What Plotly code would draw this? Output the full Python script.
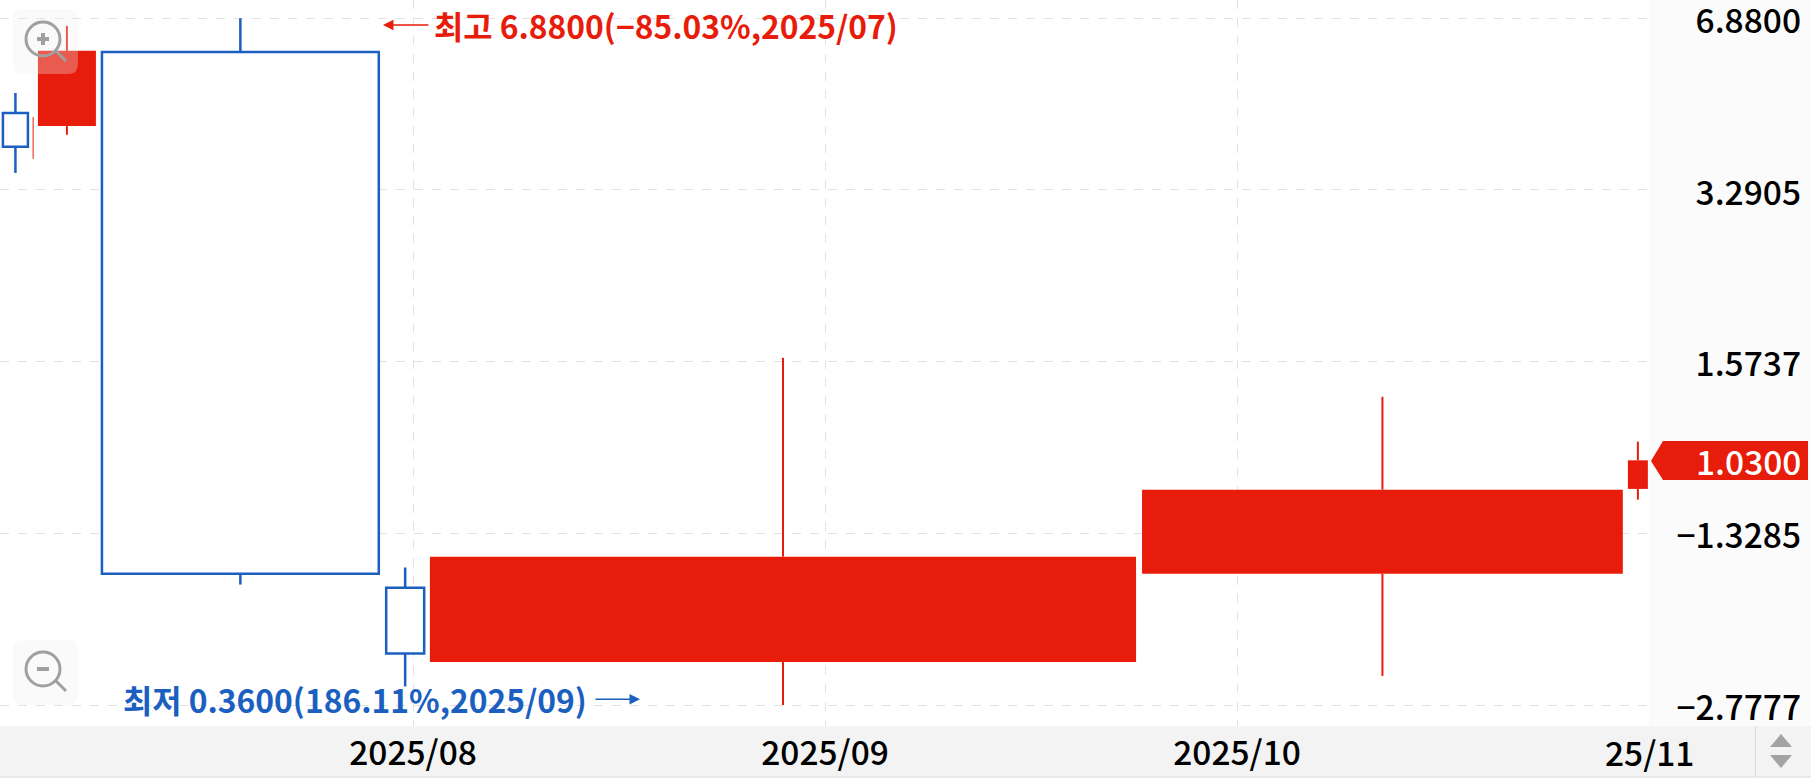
import math
import plotly.graph_objects as go

W, H = 1811, 778
RED = "#e71c0a"
BLUE = "#1b5fc1"
GRID = "#e2e2e2"
FONT = "Noto Sans CJK KR"

# Equivolume monthly candles: x is in month units, width is the candle's traded share
up_center = [7.035, 7.581, 7.981]
up_width = [0.0607, 0.672, 0.0922]
up_top = [4.58, 5.95, 0.596]
up_bottom = [3.96, 0.633, 0.449]
up_high = [4.99, 6.88, 0.650]
up_low = [3.54, 0.604, 0.39]

down_center = [7.160, 8.898, 10.353, 10.973]
down_width = [0.1408, 1.714, 1.167, 0.0485]
down_top = [5.98, 0.681, 0.908, 1.03]
down_bottom = [4.33, 0.433, 0.633, 0.911]
down_high = [6.66, 1.60, 1.353, 1.116]
down_low = [4.17, 0.36, 0.408, 0.870]

thin_center = [7.078]
thin_high = [4.50]
thin_low = [3.76]

y_tick_values = [6.88, 3.2905, 1.5737, 0.7527, 0.36]
y_tick_labels = ["6.8800", "3.2905", "1.5737", "−1.3285", "−2.7777"]
x_tick_values = [8, 9, 10]
x_tick_labels = ["2025/08", "2025/09", "2025/10"]
last_x_value = 11
last_x_label = "25/11"
last_price = 1.03
high_text = "최고 6.8800(−85.03%,2025/07)"
low_text = "최저 0.3600(186.11%,2025/09)"


def px(x):
    return x / W


def py(y):
    return 1 - y / H


def paper_path(points):
    return "M" + " L".join(f"{px(a):.5f},{py(b):.5f}" for a, b in points) + " Z"


def wick_xy(center, top, bottom, high, low):
    xs, ys = [], []
    for c, t, b, h, l in zip(center, top, bottom, high, low):
        xs += [c, c, None, c, c, None]
        ys += [h, t, None, b, l, None]
    return xs, ys


fig = go.Figure()
fig.add_bar(
    x=up_center, width=up_width, base=up_bottom,
    y=[t - b for t, b in zip(up_top, up_bottom)],
    marker=dict(color="white", line=dict(color=BLUE, width=2.5)),
)
fig.add_bar(
    x=down_center, width=down_width, base=down_bottom,
    y=[t - b for t, b in zip(down_top, down_bottom)],
    marker=dict(color=RED, line=dict(color=RED, width=0)),
)
ux, uy = wick_xy(up_center, up_top, up_bottom, up_high, up_low)
fig.add_scatter(x=ux, y=uy, mode="lines", line=dict(color=BLUE, width=2.5))
dx, dy = wick_xy(down_center, down_top, down_bottom, down_high, down_low)
fig.add_scatter(x=dx, y=dy, mode="lines", line=dict(color=RED, width=2))
fig.add_scatter(x=thin_center * 2, y=thin_high + thin_low, mode="lines", line=dict(color=RED, width=1))

shapes = [
    dict(type="rect", xref="paper", yref="paper", x0=0, x1=1, y0=py(777), y1=py(726),
         fillcolor="#f3f3f3", line_width=0, layer="below"),
    dict(type="line", xref="paper", yref="paper", x0=0, x1=1, y0=py(777), y1=py(777),
         line=dict(color="#dcdcdc", width=1), layer="below"),
    dict(type="line", xref="paper", yref="paper", x0=px(1755.5), x1=px(1755.5), y0=py(777), y1=py(726),
         line=dict(color="#dcdcdc", width=1), layer="below"),
    dict(type="path", xref="paper", yref="paper", path=paper_path([(1770, 747), (1781, 734), (1792, 747)]),
         fillcolor="#a3a3a3", line_width=0),
    dict(type="path", xref="paper", yref="paper", path=paper_path([(1770, 755), (1792, 755), (1781, 768)]),
         fillcolor="#a3a3a3", line_width=0),
    dict(type="path", xref="paper", yref="paper",
         path=paper_path([(1651, 461), (1663, 441), (1808, 441), (1808, 480), (1663, 480)]),
         fillcolor=RED, line_width=0),
]

for top, cy, plus in [(9, 39, True), (640, 669, False)]:
    left, right, bottom, r = 13, 78, top + 65, 10
    shapes.append(dict(
        type="path", xref="paper", yref="paper",
        path=(f"M{px(left + r)},{py(top)} L{px(right - r)},{py(top)} "
              f"Q{px(right)},{py(top)} {px(right)},{py(top + r)} L{px(right)},{py(bottom - r)} "
              f"Q{px(right)},{py(bottom)} {px(right - r)},{py(bottom)} L{px(left + r)},{py(bottom)} "
              f"Q{px(left)},{py(bottom)} {px(left)},{py(bottom - r)} L{px(left)},{py(top + r)} "
              f"Q{px(left)},{py(top)} {px(left + r)},{py(top)} Z"),
        fillcolor="rgba(238,238,238,0.3)", line_width=0))
    grey = dict(color="#a0a0a0", width=3)
    shapes.append(dict(type="circle", xref="paper", yref="paper", x0=px(43 - 17), x1=px(43 + 17),
                       y0=py(cy + 17), y1=py(cy - 17), line=grey))
    shapes.append(dict(type="line", xref="paper", yref="paper", x0=px(56), x1=px(66),
                       y0=py(cy + 12), y1=py(cy + 22), line=grey))
    shapes.append(dict(type="line", xref="paper", yref="paper", x0=px(37), x1=px(49),
                       y0=py(cy), y1=py(cy), line=dict(color="#a0a0a0", width=4)))
    if plus:
        shapes.append(dict(type="line", xref="paper", yref="paper", x0=px(43), x1=px(43),
                           y0=py(cy - 6), y1=py(cy + 6), line=dict(color="#a0a0a0", width=4)))

HIGH_Y = math.log10(6.68)
LOW_Y = math.log10(0.369)
annotations = [
    dict(x=last_x_value, y=-25 / 726, xref="x", yref="y domain", text=last_x_label, showarrow=False,
         font=dict(family=FONT, size=33.5, color="black", weight=500), xanchor="center", yanchor="middle"),
    dict(x=px(1803), y=math.log10(last_price), xref="paper", yref="y", text=f"{last_price:.4f}", showarrow=False,
         font=dict(family=FONT, size=33.5, color="white", weight=500), xanchor="right", yanchor="middle"),
    dict(x=8.047, y=HIGH_Y, xref="x", yref="y", text=high_text, showarrow=False,
         font=dict(family=FONT, size=31.8, color=RED, weight=700), xanchor="left", yanchor="middle"),
    dict(x=7.927, y=HIGH_Y, xref="x", yref="y", ax=47, ay=0, text="", showarrow=True,
         arrowhead=2, arrowsize=1.4, arrowwidth=1.5, arrowcolor=RED),
    dict(x=8.428, y=LOW_Y, xref="x", yref="y", text=low_text, showarrow=False,
         font=dict(family=FONT, size=31.8, color=BLUE, weight=700), xanchor="right", yanchor="middle"),
    dict(x=8.551, y=LOW_Y, xref="x", yref="y", ax=-46, ay=0, text="", showarrow=True,
         arrowhead=2, arrowsize=1.4, arrowwidth=1.5, arrowcolor=BLUE),
]

fig.update_layout(
    width=W, height=H,
    margin=dict(l=0, r=0, t=0, b=0, pad=0),
    paper_bgcolor="#fbfbfb",
    plot_bgcolor="white",
    showlegend=False,
    barmode="overlay",
    shapes=shapes,
    annotations=annotations,
    xaxis=dict(
        automargin=False,
        domain=[0, 1649 / W],
        range=[8 - 413 / 412, 11.0],
        tickmode="array", tickvals=x_tick_values, ticktext=x_tick_labels,
        tickfont=dict(family=FONT, size=33.5, color="black", weight=500),
        ticks="", ticklabeloverflow="allow", ticklabelstandoff=4,
        showgrid=True, gridcolor=GRID, griddash="dash", gridwidth=1,
        zeroline=False, showline=False,
    ),
    yaxis=dict(
        automargin=False,
        type="log",
        domain=[52 / H, 1],
        range=[-0.4828, 0.8716],
        side="left", anchor="free", position=1801 / W,
        tickmode="array", tickvals=y_tick_values, ticktext=y_tick_labels,
        tickfont=dict(family=FONT, size=33.5, color="black", weight=500),
        ticks="", ticklabeloverflow="allow", ticklabelshift=3,
        showgrid=True, gridcolor=GRID, griddash="dash", gridwidth=1,
        zeroline=False, showline=False,
    ),
)

fig.write_html("out.html", config=dict(displayModeBar=False),
               post_script="document.body.style.margin='0';document.body.style.overflow='hidden';")
